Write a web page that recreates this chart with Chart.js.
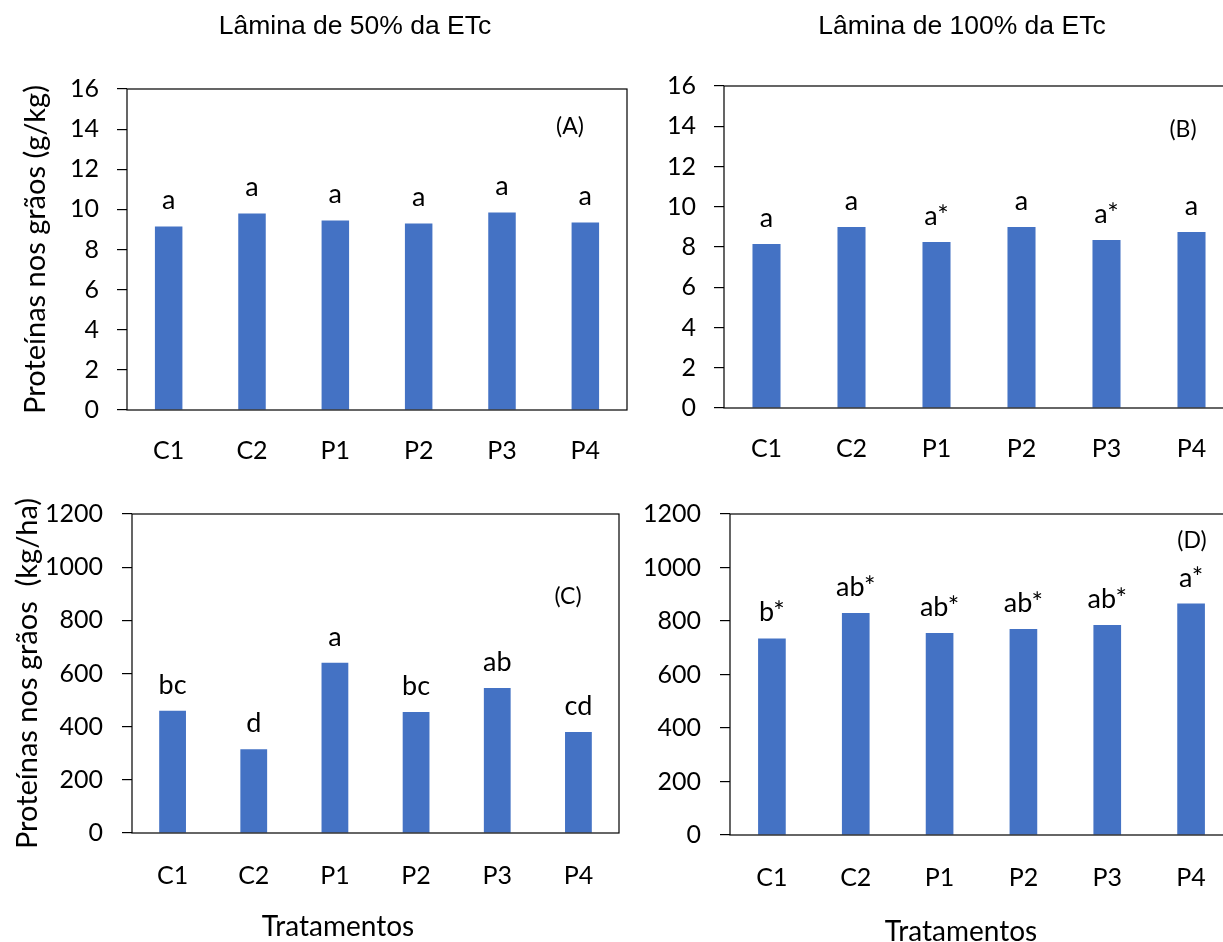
<!DOCTYPE html>
<html>
<head>
<meta charset="utf-8">
<script src="https://cdn.jsdelivr.net/npm/chart.js@4.4.1/dist/chart.umd.min.js"></script>
<style>
  html, body { margin: 0; padding: 0; width: 1223px; height: 942px; overflow: hidden; background: #fff; }
  canvas { position: absolute; }
</style>
</head>
<body>
<canvas id="cA"></canvas>
<canvas id="cB"></canvas>
<canvas id="cC"></canvas>
<canvas id="cD"></canvas>
<script>
// ---- data ----
const categories = ['C1', 'C2', 'P1', 'P2', 'P3', 'P4'];
const valuesA = [9.15, 9.8, 9.45, 9.3, 9.85, 9.35];      // g/kg, 50% ETc
const valuesB = [8.15, 9.0, 8.25, 9.0, 8.35, 8.75];      // g/kg, 100% ETc
const valuesC = [460, 315, 640, 455, 545, 380];          // kg/ha, 50% ETc
const valuesD = [735, 830, 755, 770, 785, 865];          // kg/ha, 100% ETc
const lettersA = ['a', 'a', 'a', 'a', 'a', 'a'];
const lettersB = ['a', 'a', 'a*', 'a', 'a*', 'a'];
const lettersC = ['bc', 'd', 'a', 'bc', 'ab', 'cd'];
const lettersD = ['b*', 'ab*', 'ab*', 'ab*', 'ab*', 'a*'];
const ticksGkg = [0, 2, 4, 6, 8, 10, 12, 14, 16];
const ticksKgha = [0, 200, 400, 600, 800, 1000, 1200];

const BAR = '#4472C4';
const TICKFONT = { family: 'Lato', size: 25 };
const LETTERFONT = '27px Lato';

// frame + letters + free texts
const panelPlugin = {
  id: 'panelPlugin',
  afterDatasetsDraw(chart, args, opts) {
    const ctx = chart.ctx;
    const a = chart.chartArea;
    ctx.save();
    ctx.strokeStyle = '#000';
    ctx.lineWidth = 1.2;
    ctx.strokeRect(a.left, a.top, a.right - a.left, a.bottom - a.top);
    // letters above bars
    ctx.fillStyle = '#000';
    ctx.font = LETTERFONT;
    ctx.textAlign = 'center';
    ctx.textBaseline = 'alphabetic';
    const meta = chart.getDatasetMeta(0);
    meta.data.forEach((bar, i) => {
      ctx.fillText(opts.letters[i], bar.x, bar.y - 17);
    });
    // free texts (canvas-relative)
    (opts.texts || []).forEach(t => {
      ctx.font = t.font;
      ctx.textAlign = 'center';
      ctx.textBaseline = 'middle';
      ctx.fillText(t.text, t.x, t.y);
    });
    ctx.restore();
  }
};

function makePanel(id, box, values, letters, ticks, yTitle, yTitlePad, texts) {
  const cv = document.getElementById(id);
  cv.style.left = box.L + 'px';
  cv.style.top = box.T + 'px';
  cv.style.width = box.W + 'px';
  cv.style.height = box.H + 'px';
  cv.width = box.W;
  cv.height = box.H;
  return new Chart(cv, {
    type: 'bar',
    data: {
      labels: categories,
      datasets: [{
        data: values,
        backgroundColor: BAR,
        borderWidth: 0,
        categoryPercentage: 1.0,
        barPercentage: 0.33
      }]
    },
    options: {
      responsive: false,
      animation: false,
      devicePixelRatio: 1,
      layout: { padding: { top: box.pt, right: box.pr, left: 0, bottom: 0 } },
      plugins: {
        legend: { display: false },
        tooltip: { enabled: false },
        panelPlugin: { letters: letters, texts: texts }
      },
      scales: {
        x: {
          grid: { display: false },
          border: { display: false },
          ticks: { color: '#000', font: TICKFONT, padding: box.xpad, maxRotation: 0 },
          afterFit(s) { s.height = box.xh; }
        },
        y: {
          min: ticks[0],
          max: ticks[ticks.length - 1],
          afterBuildTicks(s) { s.ticks = ticks.map(v => ({ value: v })); },
          grid: { drawOnChartArea: false, drawTicks: true, tickLength: 10, color: '#000', lineWidth: 1.2 },
          border: { display: false },
          ticks: { color: '#000', font: TICKFONT, padding: box.ypad, callback: v => String(v) },
          title: {
            display: !!yTitle,
            text: yTitle || '',
            color: '#000',
            font: { family: 'Lato', size: 29 },
            padding: { top: yTitlePad, bottom: 0 }
          },
          afterFit(s) { s.width = box.yw; }
        }
      }
    },
    plugins: [panelPlugin]
  });
}

const TITLEFONT = '26.5px "Liberation Sans", Arial, sans-serif';
const TAGFONT = '23px Lato';
const AXFONT = '28px Lato';

makePanel('cA', { L: 0, T: 0, W: 640, H: 470, pt: 89, pr: 13, yw: 127, xh: 60, xpad: 18, ypad: 18 },
  valuesA, lettersA, ticksGkg, 'Proteínas nos grãos (g/kg)', 18,
  [ { text: 'Lâmina de 50% da ETc', x: 355, y: 27, font: TITLEFONT },
    { text: '(A)', x: 570, y: 127, font: TAGFONT } ]);

makePanel('cB', { L: 640, T: 0, W: 610, H: 468, pt: 86, pr: 16, yw: 84, xh: 60, xpad: 18, ypad: 18 },
  valuesB, lettersB, ticksGkg, null, 0,
  [ { text: 'Lâmina de 100% da ETc', x: 962 - 640, y: 27, font: TITLEFONT },
    { text: '(B)', x: 1183 - 640, y: 130, font: TAGFONT } ]);

makePanel('cC', { L: 0, T: 480, W: 640, H: 462, pt: 32, pr: 21, yw: 132, xh: 109, xpad: 20, ypad: 19 },
  valuesC, lettersC, ticksKgha, 'Proteínas nos grãos  (kg/ha)', 10,
  [ { text: '(C)', x: 568, y: 597 - 480, font: TAGFONT },
    { text: 'Tratamentos', x: 338, y: 927 - 480, font: AXFONT } ]);

makePanel('cD', { L: 640, T: 480, W: 610, H: 462, pt: 34, pr: 17, yw: 90, xh: 107, xpad: 20, ypad: 19 },
  valuesD, lettersD, ticksKgha, null, 0,
  [ { text: '(D)', x: 1192 - 640, y: 541 - 480, font: TAGFONT },
    { text: 'Tratamentos', x: 961 - 640, y: 932 - 480, font: AXFONT } ]);
</script>
</body>
</html>
